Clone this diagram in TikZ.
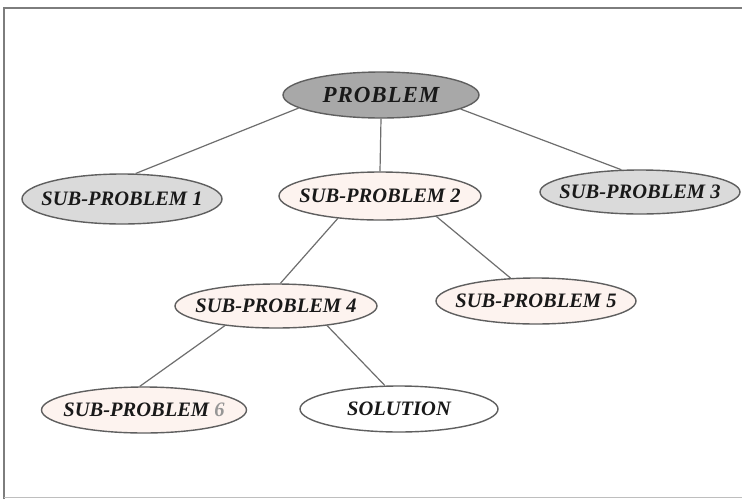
\documentclass[tikz,border=0pt]{standalone}
\usepackage{fontspec}
\setmainfont{Liberation Serif}
\usetikzlibrary{shapes.geometric}
\definecolor{edgegray}{RGB}{95,95,95}
\definecolor{linegray}{RGB}{110,110,110}
\definecolor{darkfill}{RGB}{168,168,168}
\definecolor{lightfill}{RGB}{218,218,218}
\definecolor{pinkfill}{RGB}{253,243,239}
\definecolor{framegray}{RGB}{125,125,125}
\definecolor{sixgray}{RGB}{150,150,150}
\tikzset{
  oval/.style={ellipse, draw=edgegray, line width=1.4pt, inner xsep=-30pt, inner ysep=0pt,
    font=\fontsize{20.5}{24}\selectfont\bfseries\itshape, text=black!90},
  conn/.style={draw=linegray, line width=1.2pt},
}
\begin{document}
\begin{tikzpicture}[x=1pt,y=-1pt]
\useasboundingbox (0,0) rectangle (742,499);
\fill[white] (0,0) rectangle (742,499);
% frame
\draw[framegray, line width=2pt] (4,499) -- (4,8) -- (742,8);
\draw[framegray!50, line width=1pt] (4,497.5) -- (742,497.5);
% nodes
\node[oval, fill=darkfill, minimum width=196pt, minimum height=46pt,
  font=\fontsize{23}{26}\selectfont\bfseries\itshape\addfontfeature{LetterSpace=4}] (prob) at (381,95) {PROBLEM};
\node[oval, fill=lightfill, minimum width=200pt, minimum height=50pt] (sp1) at (122,199) {SUB-PROBLEM 1};
\node[oval, fill=pinkfill, minimum width=202pt, minimum height=48pt] (sp2) at (380,196) {SUB-PROBLEM 2};
\node[oval, fill=lightfill, minimum width=200pt, minimum height=44pt] (sp3) at (640,192) {SUB-PROBLEM 3};
\node[oval, fill=pinkfill, minimum width=202pt, minimum height=44pt] (sp4) at (276,306) {SUB-PROBLEM 4};
\node[oval, fill=pinkfill, minimum width=200pt, minimum height=46pt] (sp5) at (536,301) {SUB-PROBLEM 5};
\node[oval, fill=pinkfill, minimum width=205pt, minimum height=46pt] (sp6) at (144,410) {SUB-PROBLEM \textcolor{sixgray}{6}};
\node[oval, fill=white, minimum width=198pt, minimum height=46pt] (sol) at (399,409) {SOLUTION};
% connectors
\draw[conn] (prob.189) -- (sp1.62);
\draw[conn] (prob.270) -- (sp2.90);
\draw[conn] (prob.350) -- (sp3.130);
\draw[conn] (sp2.208) -- (sp4.79);
\draw[conn] (sp2.340) -- (sp5.138);
\draw[conn] (sp4.201) -- (sp6.100);
\draw[conn] (sp4.339) -- (sol.121);
\end{tikzpicture}
\end{document}
